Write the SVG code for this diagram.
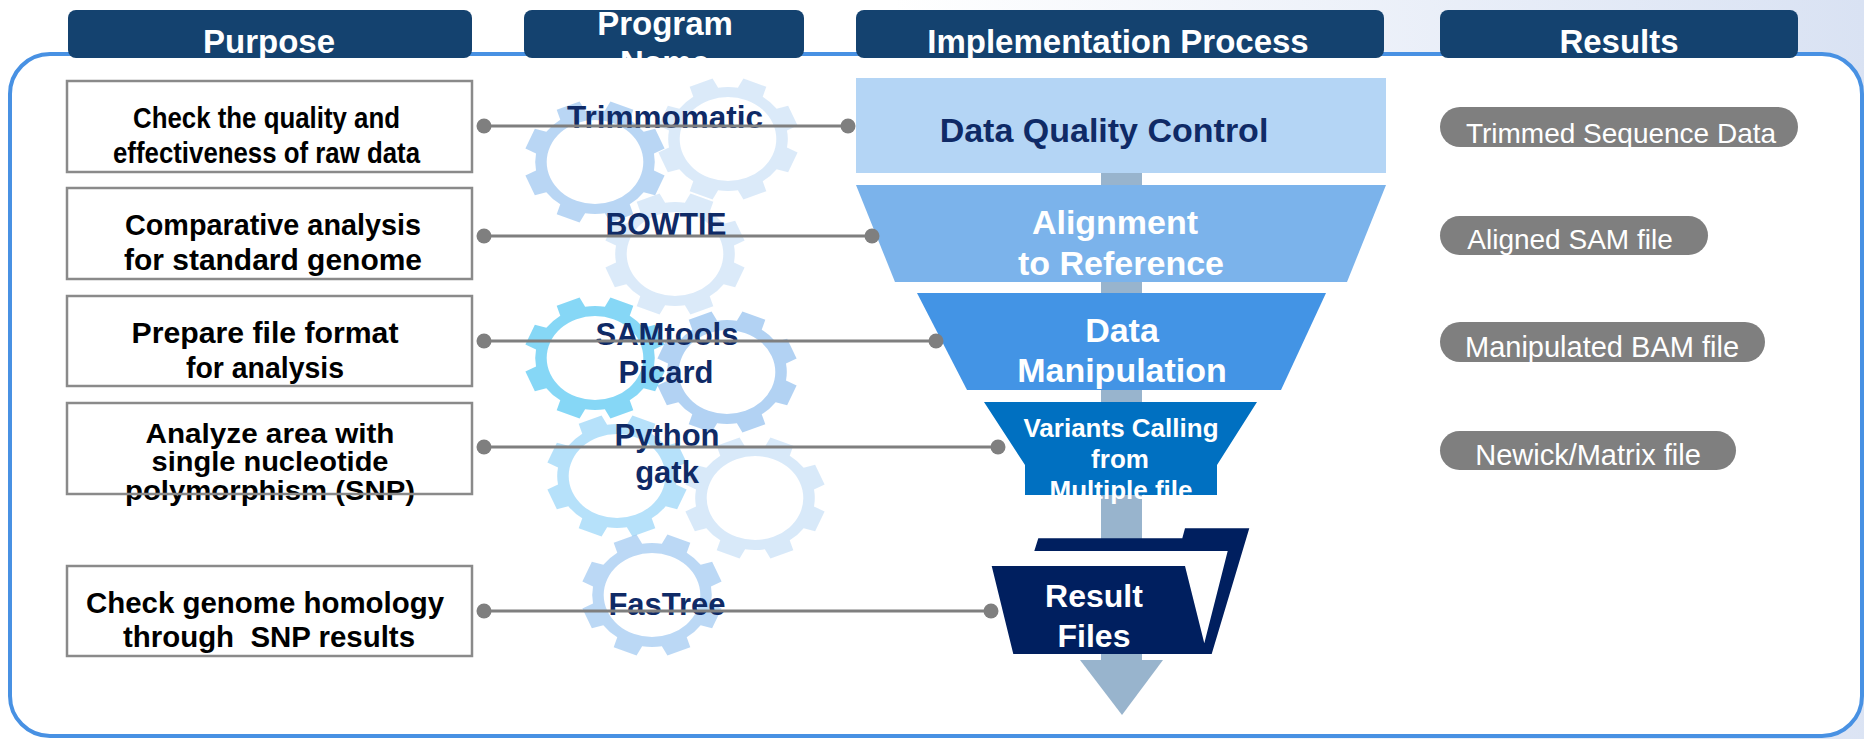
<svg xmlns="http://www.w3.org/2000/svg" xmlns:xlink="http://www.w3.org/1999/xlink" width="1864" height="739" viewBox="0 0 1864 739">
  <style>
    .hdr { fill: #14426f; }
    .hdrt { font: bold 33px "Liberation Sans", Arial, sans-serif; fill: #ffffff; text-anchor: middle; }
    .pbox { fill: #ffffff; }
    .pedge { fill: none; stroke: #8a8a8a; stroke-width: 2.5; }
    .pt { font: bold 29px "Liberation Sans", Arial, sans-serif; fill: #000000; text-anchor: middle; }
    .pt3 { font-size: 27px; }
    .prog { font: bold 31px "Liberation Sans", Arial, sans-serif; fill: #0f2a66; text-anchor: middle; }
    .step { font: bold 34px "Liberation Sans", Arial, sans-serif; fill: #ffffff; text-anchor: middle; }
    .stepsm { font: bold 26px "Liberation Sans", Arial, sans-serif; fill: #ffffff; text-anchor: middle; }
    .conn line { stroke: #7f7f7f; stroke-width: 3; }
    .conn circle { fill: #7f7f7f; }
    .pill { fill: #7f7f7f; }
    .pillt { font: 28px "Liberation Sans", Arial, sans-serif; fill: #ffffff; text-anchor: middle; }
  </style>
  <defs>
    <linearGradient id="bg" gradientUnits="userSpaceOnUse" x1="900" y1="80" x2="1864" y2="0">
      <stop offset="0" stop-color="#ffffff"/>
      <stop offset="1" stop-color="#d9e2f3"/>
    </linearGradient>
    <!-- 8-tooth gear centred on the origin, with a see-through hub hole -->
    <path id="gear" fill-rule="evenodd" d="M51.29 8.58 L60.53 13.42 L52.29 33.31 L42.33 30.20 A52 52 0 0 1 30.20 42.33 L33.31 52.29 L13.42 60.53 L8.58 51.29 A52 52 0 0 1 -8.58 51.29 L-13.42 60.53 L-33.31 52.29 L-30.20 42.33 A52 52 0 0 1 -42.33 30.20 L-52.29 33.31 L-60.53 13.42 L-51.29 8.58 A52 52 0 0 1 -51.29 -8.58 L-60.53 -13.42 L-52.29 -33.31 L-42.33 -30.20 A52 52 0 0 1 -30.20 -42.33 L-33.31 -52.29 L-13.42 -60.53 L-8.58 -51.29 A52 52 0 0 1 8.58 -51.29 L13.42 -60.53 L33.31 -52.29 L30.20 -42.33 A52 52 0 0 1 42.33 -30.20 L52.29 -33.31 L60.53 -13.42 L51.29 -8.58 A52 52 0 0 1 51.29 8.58 Z M42 0 A42 42 0 1 0 -42 0 A42 42 0 1 0 42 0 Z"/>
  </defs>

  <!-- page background and outer frame -->
  <rect x="0" y="0" width="1864" height="739" fill="url(#bg)"/>
  <rect x="10" y="54" width="1852" height="682" rx="40" ry="40" fill="#ffffff" stroke="#4891e3" stroke-width="4"/>

  <!-- column headers -->
  <g id="hdr-purpose">
    <rect class="hdr" x="68" y="10" width="404" height="48" rx="8"/>
    <text class="hdrt" x="269" y="53">Purpose</text>
  </g>
  <g id="hdr-program">
    <rect class="hdr" x="524" y="10" width="280" height="48" rx="8"/>
    <text class="hdrt" x="665" y="35">Program</text>
    <text class="hdrt" x="665" y="74">Name</text>
  </g>
  <g id="hdr-process">
    <rect class="hdr" x="856" y="10" width="528" height="48" rx="8"/>
    <text class="hdrt" x="1118" y="53">Implementation Process</text>
  </g>
  <g id="hdr-results">
    <rect class="hdr" x="1440" y="10" width="358" height="48" rx="8"/>
    <text class="hdrt" x="1619" y="53">Results</text>
  </g>

  <!-- decorative gears behind the program names -->
  <g id="gears">
    <use xlink:href="#gear" transform="translate(728 139) scale(1.15 1)" fill="#8abbed" fill-opacity="0.31"/>
    <use xlink:href="#gear" transform="translate(595 162) scale(1.15 1)" fill="#8abbed" fill-opacity="0.6"/>
    <use xlink:href="#gear" transform="translate(675 254) scale(1.15 1)" fill="#8abbed" fill-opacity="0.31"/>
    <use xlink:href="#gear" transform="translate(727 372) scale(1.15 1)" fill="#8abbed" fill-opacity="0.66"/>
    <use xlink:href="#gear" transform="translate(595 358) scale(1.15 1)" fill="#3cbef0" fill-opacity="0.62"/>
    <use xlink:href="#gear" transform="translate(755 498) scale(1.15 1)" fill="#8abbed" fill-opacity="0.33"/>
    <use xlink:href="#gear" transform="translate(617 476) scale(1.15 1)" fill="#52b8f2" fill-opacity="0.42"/>
    <use xlink:href="#gear" transform="translate(652 595) scale(1.15 1)" fill="#8abbed" fill-opacity="0.58"/>
  </g>

  <!-- program names -->
  <g id="prog-trimmomatic"><text class="prog" x="665" y="128" textLength="196" lengthAdjust="spacingAndGlyphs">Trimmomatic</text></g>
  <g id="prog-bowtie"><text class="prog" x="666" y="235" textLength="121" lengthAdjust="spacingAndGlyphs">BOWTIE</text></g>
  <g id="prog-samtools"><text class="prog" x="667" y="345">SAMtools</text><text class="prog" x="666" y="383">Picard</text></g>
  <g id="prog-python"><text class="prog" x="667" y="446">Python</text><text class="prog" x="667" y="483">gatk</text></g>
  <g id="prog-fastree"><text class="prog" x="667" y="615">FasTree</text></g>

  <!-- purpose boxes -->
  <g id="purpose-1">
    <rect class="pbox" x="67" y="81" width="405" height="91"/>
    <text class="pt" x="266.5" y="128" textLength="267" lengthAdjust="spacingAndGlyphs">Check the quality and</text>
    <text class="pt" x="266.5" y="163" textLength="307" lengthAdjust="spacingAndGlyphs">effectiveness of raw data</text>
    <rect class="pedge" x="67" y="81" width="405" height="91"/>
  </g>
  <g id="purpose-2">
    <rect class="pbox" x="67" y="188" width="405" height="91"/>
    <text class="pt" x="273" y="235" textLength="296" lengthAdjust="spacingAndGlyphs">Comparative analysis</text>
    <text class="pt" x="273" y="270" textLength="298" lengthAdjust="spacingAndGlyphs">for standard genome</text>
    <rect class="pedge" x="67" y="188" width="405" height="91"/>
  </g>
  <g id="purpose-3">
    <rect class="pbox" x="67" y="296" width="405" height="90"/>
    <text class="pt" x="265" y="343" textLength="267" lengthAdjust="spacingAndGlyphs">Prepare file format</text>
    <text class="pt" x="265" y="378" textLength="158" lengthAdjust="spacingAndGlyphs">for analysis</text>
    <rect class="pedge" x="67" y="296" width="405" height="90"/>
  </g>
  <g id="purpose-4">
    <rect class="pbox" x="67" y="403" width="405" height="91"/>
    <text class="pt pt3" x="270" y="443" textLength="249" lengthAdjust="spacingAndGlyphs">Analyze area with</text>
    <text class="pt pt3" x="270" y="471" textLength="237" lengthAdjust="spacingAndGlyphs">single nucleotide</text>
    <text class="pt pt3" x="270" y="500" textLength="290" lengthAdjust="spacingAndGlyphs">polymorphism (SNP)</text>
    <rect class="pedge" x="67" y="403" width="405" height="91"/>
  </g>
  <g id="purpose-5">
    <rect class="pbox" x="67" y="566" width="405" height="90"/>
    <text class="pt" x="265" y="613" textLength="358" lengthAdjust="spacingAndGlyphs">Check genome homology</text>
    <text class="pt" x="269" y="647" textLength="292" lengthAdjust="spacingAndGlyphs" style="white-space:pre">through  SNP results</text>
    <rect class="pedge" x="67" y="566" width="405" height="90"/>
  </g>

  <!-- process funnel: down arrow behind the stages -->
  <g id="flow-arrow">
    <rect x="1101" y="170" width="41" height="492" fill="#98b4cd"/>
    <polygon points="1080,660 1163,660 1122,715" fill="#98b4cd"/>
  </g>
  <g id="step-qc">
    <rect x="856" y="78" width="530" height="95" fill="#b4d5f5"/>
    <text class="step" x="1104" y="142" style="fill:#0f2a66">Data Quality Control</text>
  </g>
  <g id="step-align">
    <path d="M856 185 L1386 185 L1347 282 L895 282 Z" fill="#7bb3eb"/>
    <text class="step" x="1115" y="234">Alignment</text>
    <text class="step" x="1121" y="275">to Reference</text>
  </g>
  <g id="step-manip">
    <path d="M917 293 L1326 293 L1281 390 L967 390 Z" fill="#4394e5"/>
    <text class="step" x="1122" y="342">Data</text>
    <text class="step" x="1122" y="382">Manipulation</text>
  </g>
  <g id="step-variants">
    <path d="M984 402 L1257 402 L1217 465 L1217 495 L1025 495 L1025 465 Z" fill="#0070c1"/>
    <text class="stepsm" x="1121" y="437">Variants Calling</text>
    <text class="stepsm" x="1120" y="468">from</text>
    <text class="stepsm" x="1121" y="499">Multiple file</text>
  </g>
  <g id="step-results">
    <path d="M1034.3 551 L1227.7 551 L1204.3 643.3 L1185 566 L1034.3 566 Z" fill="#ffffff"/>
    <path d="M991.7 566 L1185 566 L1204.3 643.3 L1227.7 551 L1034.3 551 L1038.3 538.3 L1182.3 538.3 L1185 528.3 L1249.3 528.3 L1211.7 654 L1013.3 654 Z" fill="#001f5f"/>
    <text class="step" x="1094" y="607" style="font-size:32px">Result</text>
    <text class="step" x="1094" y="647" style="font-size:32px">Files</text>
  </g>

  <!-- connectors from purpose to process stage -->
  <g id="connectors" class="conn">
    <line x1="484" y1="126" x2="848" y2="126"/>
    <circle cx="484" cy="126" r="7.5"/>
    <circle cx="848" cy="126" r="7.5"/>
    <line x1="484" y1="236" x2="872" y2="236"/>
    <circle cx="484" cy="236" r="7.5"/>
    <circle cx="872" cy="236" r="7.5"/>
    <line x1="484" y1="341" x2="936" y2="341"/>
    <circle cx="484" cy="341" r="7.5"/>
    <circle cx="936" cy="341" r="7.5"/>
    <line x1="484" y1="447" x2="998" y2="447"/>
    <circle cx="484" cy="447" r="7.5"/>
    <circle cx="998" cy="447" r="7.5"/>
    <line x1="484" y1="611" x2="991" y2="611"/>
    <circle cx="484" cy="611" r="7.5"/>
    <circle cx="991" cy="611" r="7.5"/>
  </g>

  <!-- result pills -->
  <g id="result-1">
    <rect class="pill" x="1440" y="107" width="358" height="40" rx="20"/>
    <text class="pillt" x="1621" y="143">Trimmed Sequence Data</text>
  </g>
  <g id="result-2">
    <rect class="pill" x="1440" y="216" width="268" height="39" rx="19.5"/>
    <text class="pillt" x="1570" y="249">Aligned SAM file</text>
  </g>
  <g id="result-3">
    <rect class="pill" x="1440" y="322" width="325" height="40" rx="20"/>
    <text class="pillt" x="1602" y="357" style="font-size:29px">Manipulated BAM file</text>
  </g>
  <g id="result-4">
    <rect class="pill" x="1440" y="431" width="296" height="39" rx="19.5"/>
    <text class="pillt" x="1588" y="465" style="font-size:29px">Newick/Matrix file</text>
  </g>
</svg>
